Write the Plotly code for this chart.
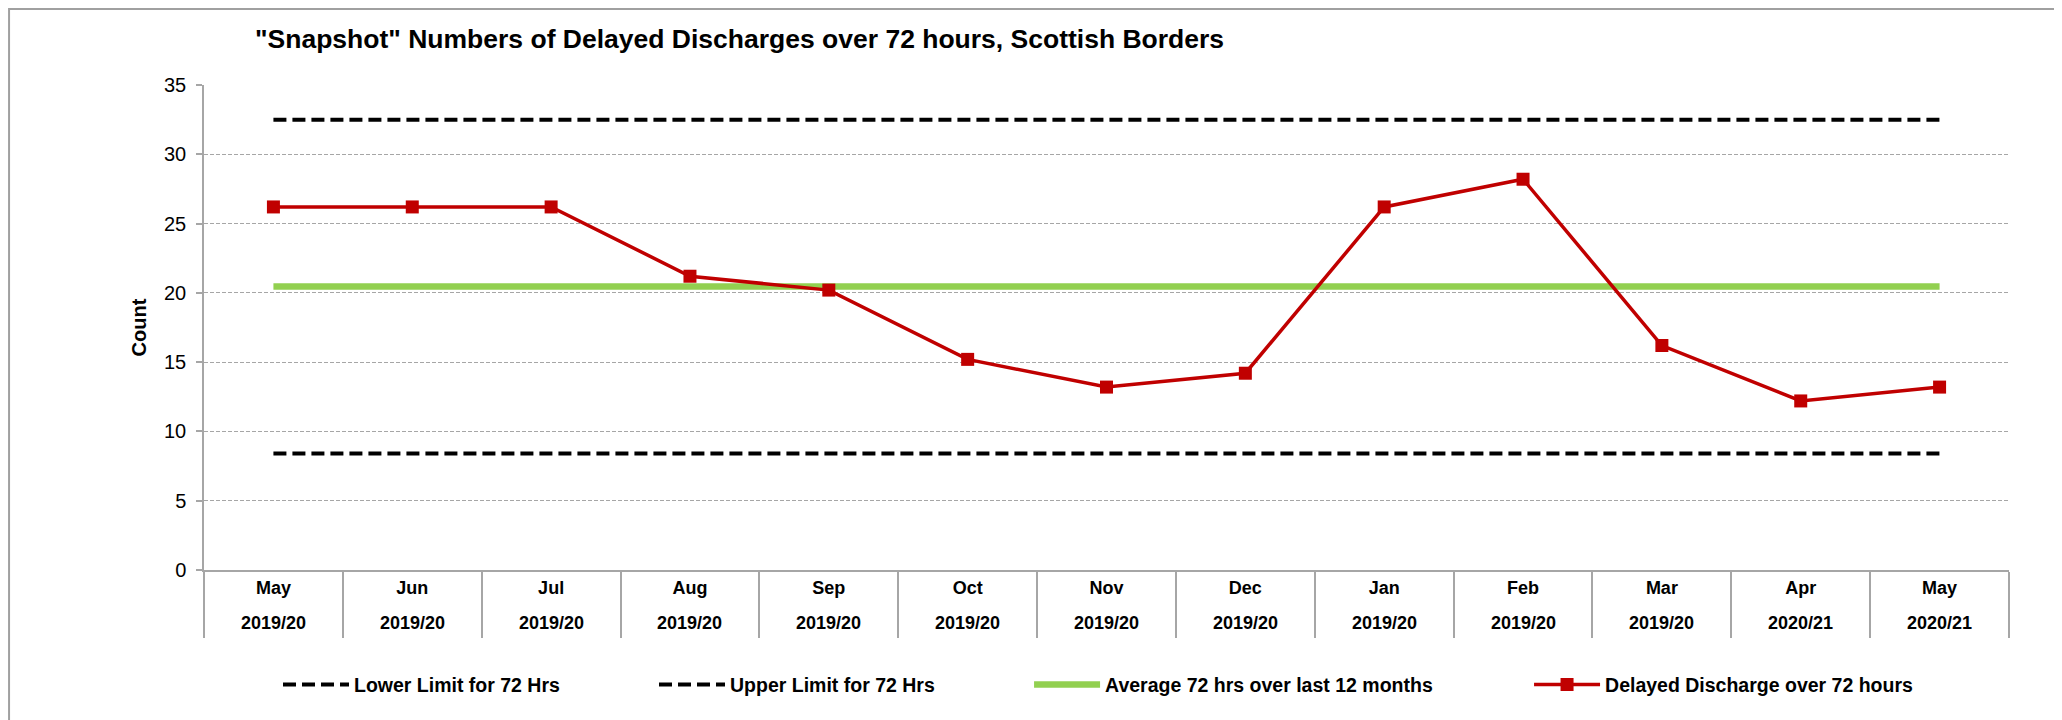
import plotly.graph_objects as go

months = ["May", "Jun", "Jul", "Aug", "Sep", "Oct", "Nov", "Dec", "Jan", "Feb", "Mar", "Apr", "May"]
years = ["2019/20"] * 11 + ["2020/21"] * 2
delayed = [26.2, 26.2, 26.2, 21.2, 20.2, 15.2, 13.2, 14.2, 26.2, 28.2, 16.2, 12.2, 13.2]
lower_limit = [8.4] * 13
upper_limit = [32.5] * 13
average_12m = [20.45] * 13

x = list(range(len(months)))
FONT = "Liberation Sans, Arial, sans-serif"
GRID = "#A6A6A6"

fig = go.Figure()
fig.add_trace(go.Scatter(x=x, y=lower_limit, mode="lines", name="<b>Lower Limit for 72 Hrs</b>",
                         line=dict(color="black", width=4, dash="13px,6px"), legend="legend"))
fig.add_trace(go.Scatter(x=x, y=upper_limit, mode="lines", name="<b>Upper Limit for 72 Hrs</b>",
                         line=dict(color="black", width=4, dash="13px,6px"), legend="legend2"))
fig.add_trace(go.Scatter(x=x, y=average_12m, mode="lines", name="<b>Average 72 hrs over last 12 months</b>",
                         line=dict(color="#92D050", width=6.5), legend="legend3"))
fig.add_trace(go.Scatter(x=x, y=delayed, mode="lines+markers", name="<b>Delayed Discharge over 72 hours</b>",
                         line=dict(color="#C00000", width=3.5),
                         marker=dict(symbol="square", size=13, color="#C00000"), legend="legend4"))

# year row under the month labels
for xi, yr in zip(x, years):
    fig.add_annotation(x=xi, y=-0.109, xref="x", yref="paper", text="<b>%s</b>" % yr,
                       showarrow=False, yanchor="middle",
                       font=dict(family=FONT, size=18, color="black"))

# outer chart border
fig.add_shape(type="rect", xref="paper", yref="paper", x0=-0.1080, x1=1.0283, y0=-0.3155, y1=1.1567,
              line=dict(color="#A0A0A0", width=2), fillcolor="rgba(0,0,0,0)")

leg_common = dict(orientation="h", yanchor="middle", xanchor="left", bgcolor="rgba(0,0,0,0)",
                  itemwidth=66, font=dict(family=FONT, size=19.5, color="black"), y=-0.237)

fig.update_layout(
    width=2054, height=712,
    margin=dict(l=196, r=53, t=77, b=150),
    paper_bgcolor="white", plot_bgcolor="white",
    title=dict(text='<b>"Snapshot" Numbers of Delayed Discharges over 72 hours, Scottish Borders</b>',
               x=247 / 2054, xanchor="left", xref="container",
               y=1 - 31 / 712, yanchor="middle", yref="container",
               font=dict(family=FONT, size=26.5, color="black")),
    legend=dict(x=0.0410, **leg_common),
    legend2=dict(x=0.2493, **leg_common),
    legend3=dict(x=0.4571, **leg_common),
    legend4=dict(x=0.7341, **leg_common),
    xaxis=dict(range=[-0.5, 12.5], tickmode="array", tickvals=x,
               ticktext=["<b>%s</b>" % m for m in months],
               ticks="", showgrid=False, zeroline=False,
               showline=True, linecolor=GRID, linewidth=1.5,
               ticklabelstandoff=1,
               tickfont=dict(family=FONT, size=18, color="black"),
               minor=dict(tick0=-0.5, dtick=1, ticks="outside", ticklen=66,
                          tickcolor=GRID, tickwidth=1.5, showgrid=False)),
    yaxis=dict(range=[0, 35], tickmode="linear", tick0=0, dtick=5,
               showgrid=True, gridcolor=GRID, gridwidth=1, griddash="4px,2px",
               zeroline=False, showline=True, linecolor=GRID, linewidth=1.5,
               ticks="outside", ticklen=6, tickcolor=GRID, tickwidth=1.5,
               ticklabelstandoff=6,
               tickfont=dict(family=FONT, size=20, color="black"),
               title=dict(text="<b>Count</b>", standoff=12,
                          font=dict(family=FONT, size=20, color="black"))),
    showlegend=True,
)

fig.write_html("out.html")
